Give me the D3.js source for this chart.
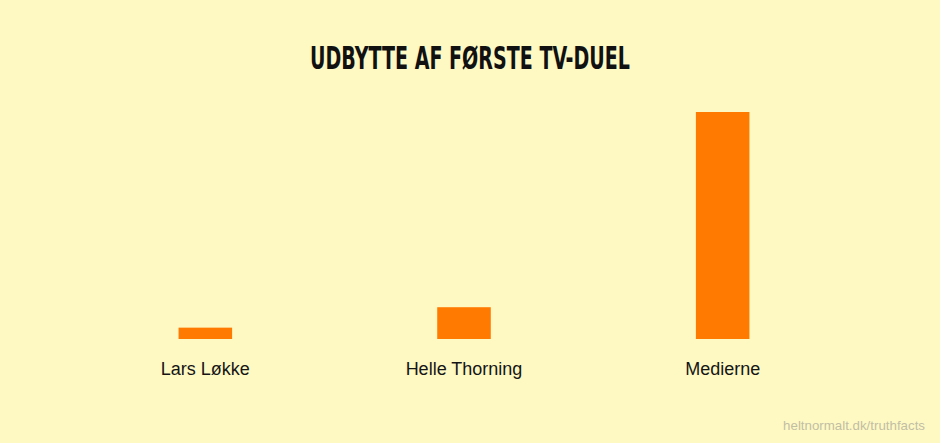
<!DOCTYPE html>
<html>
<head>
<meta charset="utf-8">
<script src="https://cdn.jsdelivr.net/npm/d3@7"></script>
<style>
  html, body { margin: 0; padding: 0; background: #fef9c3; }
  svg { display: block; }
</style>
</head>
<body>
<div id="chart"></div>
<script>
const categories = ['Lars Løkke', 'Helle Thorning', 'Medierne'];
const values = [5, 14, 100];
const title = 'UDBYTTE AF FØRSTE TV-DUEL';
const credit = 'heltnormalt.dk/truthfacts';

const width = 940;
const height = 443;

const svg = d3
  .select('#chart')
  .append('svg')
  .attr('width', width)
  .attr('height', height);

svg.append('rect').attr('width', width).attr('height', height).attr('fill', '#fef9c3');

// bars are ~54px wide on a ~259px step
const x = d3
  .scaleBand()
  .domain(categories)
  .range([76, 852])
  .paddingInner(0.793)
  .paddingOuter(0.3965);

const y = d3.scaleLinear().domain([0, 100]).range([339, 112]);

svg
  .selectAll('rect.bar')
  .data(values)
  .join('rect')
  .attr('class', 'bar')
  .attr('x', (d, i) => x(categories[i]))
  .attr('y', d => y(d))
  .attr('width', x.bandwidth())
  .attr('height', d => y(0) - y(d))
  .attr('fill', '#ff7a00');

svg
  .selectAll('text.label')
  .data(categories)
  .join('text')
  .attr('class', 'label')
  .attr('x', d => x(d) + x.bandwidth() / 2)
  .attr('y', 375)
  .attr('text-anchor', 'middle')
  .attr('font-family', 'Liberation Sans, Arial, sans-serif')
  .attr('font-size', 18)
  .attr('fill', '#151515')
  .text(d => d);

svg
  .append('text')
  .attr('x', 470)
  .attr('y', 69)
  .attr('text-anchor', 'middle')
  .attr('font-family', 'DejaVu Sans Condensed, DejaVu Sans, sans-serif')
  .attr('font-weight', 'bold')
  .attr('font-size', 32)
  .attr('textLength', 320)
  .attr('lengthAdjust', 'spacingAndGlyphs')
  .attr('fill', '#111')
  .text(title);

svg
  .append('text')
  .attr('x', 925)
  .attr('y', 430)
  .attr('text-anchor', 'end')
  .attr('font-family', 'Liberation Sans, Arial, sans-serif')
  .attr('font-size', 13.3)
  .attr('fill', '#c2bea4')
  .text(credit);
</script>
</body>
</html>
